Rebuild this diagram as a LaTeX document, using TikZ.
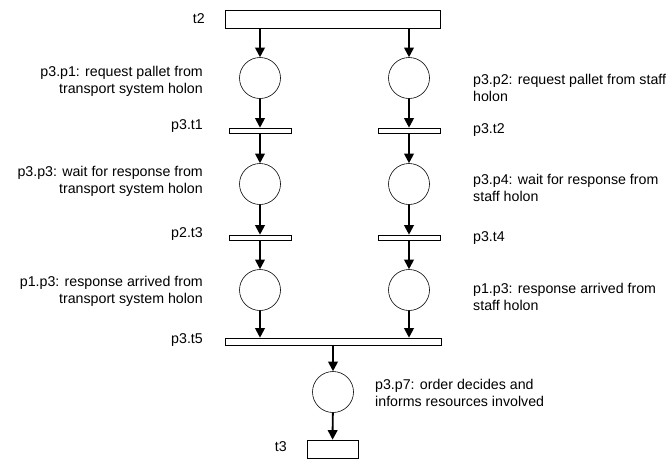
\documentclass[tikz,border=0pt]{standalone}
\usepackage{fontspec}
\setmainfont{Liberation Sans}
\usetikzlibrary{arrows.meta}
\begin{document}
\begin{tikzpicture}[x=1pt,y=-1pt,
  place/.style={draw,circle,minimum size=41pt,inner sep=0pt,line width=0.6pt},
  bar/.style={draw,rectangle,minimum width=62pt,minimum height=5pt,inner sep=0pt,line width=0.6pt},
  lbl/.style={font=\fontsize{14.2}{17}\selectfont,inner sep=0pt},
  lbll/.style={lbl,anchor=east,align=right},
  lblr/.style={lbl,anchor=west,align=left},
  arc/.style={line width=1.9pt,-{Triangle[length=9.5pt,width=9.5pt]}}]
\useasboundingbox (0,0) rectangle (672,461);
% transitions
\node [bar,minimum width=215pt,minimum height=18pt] (t2) at (332.5,19) {};
\node [bar] (t31) at (260,130.5) {};
\node [bar] (t32) at (409,130.5) {};
\node [bar] (t23) at (260,237.5) {};
\node [bar] (t34) at (409,237.5) {};
\node [bar,minimum width=216pt,minimum height=7pt] (t35) at (333,341.5) {};
\node [bar,minimum width=51pt,minimum height=18pt] (t3) at (332.5,449) {};
% places
\node [place] (p31) at (260,78) {};
\node [place] (p32) at (409,78) {};
\node [place] (p33) at (260,184) {};
\node [place] (p34) at (409,184) {};
\node [place] (p13l) at (260,290) {};
\node [place] (p13r) at (409,290) {};
\node [place] (p37) at (333,392) {};
% arcs
\draw [arc] (t2.south -| p31) -- (p31);
\draw [arc] (t2.south -| p32) -- (p32);
\draw [arc] (p31) -- (t31);
\draw [arc] (p32) -- (t32);
\draw [arc] (t31) -- (p33);
\draw [arc] (t32) -- (p34);
\draw [arc] (p33) -- (t23);
\draw [arc] (p34) -- (t34);
\draw [arc] (t23) -- (p13l);
\draw [arc] (t34) -- (p13r);
\draw [arc] (p13l) -- (t35.north -| p13l);
\draw [arc] (p13r) -- (t35.north -| p13r);
\draw [arc] (t35.south -| p37) -- (p37);
\draw [arc] (p37) -- (t3);
% labels
\node [lbll] (lt2) at (205,19) {t2};
\node [lbll] (lp31) at (203,81.5) {p3.p1: request pallet from\\transport system holon};
\node [lblr] (lp32) at (473,88) {p3.p2: request pallet from staff\\holon};
\node [lbll] (lt31) at (203,126) {p3.t1};
\node [lblr] (lt32) at (473,130) {p3.t2};
\node [lbll] (lp33) at (203,181) {p3.p3: wait for response from\\transport system holon};
\node [lblr] (lp34) at (473,188) {p3.p4: wait for response from\\staff holon};
\node [lbll] (lt23) at (203,234) {p2.t3};
\node [lblr] (lt34) at (473,238) {p3.t4};
\node [lbll] (lp13l) at (203,291) {p1.p3: response arrived from\\transport system holon};
\node [lblr] (lp13r) at (473,297) {p1.p3: response arrived from\\staff holon};
\node [lbll] (lt35) at (203,340) {p3.t5};
\node [lblr] (lp37) at (375,393) {p3.p7: order decides and\\informs resources involved};
\node [lbll] (lt3) at (287,447) {t3};
\end{tikzpicture}
\end{document}
